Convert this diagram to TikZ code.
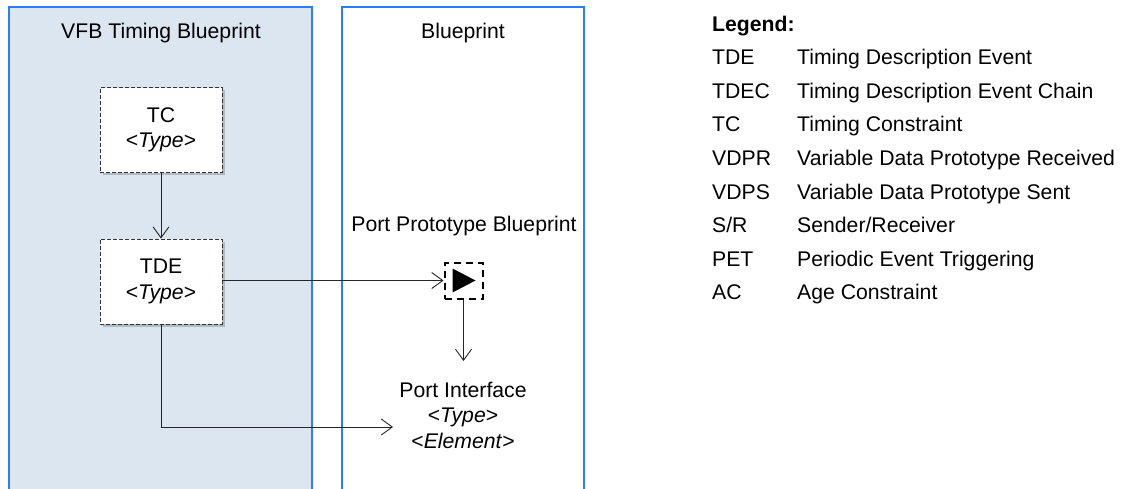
\documentclass[tikz,border=0pt]{standalone}
\usepackage{fontspec}
\setmainfont{Liberation Sans}
\usetikzlibrary{arrows.meta,shadows,calc}
\definecolor{panelblue}{HTML}{2A7DFF}
\definecolor{panelfill}{HTML}{DCE6F1}
\begin{document}
\begin{tikzpicture}[x=1pt,y=-1pt,
  font=\fontsize{21.2}{25.5}\selectfont,
  panel/.style={draw=panelblue,line width=2pt},
  tbox/.style={draw=black!80,dash pattern=on 4pt off 2pt,fill=white,minimum width=122pt,minimum height=85pt,
     align=center,inner sep=0pt,line width=0.9pt,
     drop shadow={shadow xshift=2.5pt,shadow yshift=-2.5pt,opacity=0.35,fill=black!60}},
  conn/.style={draw=black!85,line width=0.9pt},
  arr/.style={conn,-{Straight Barb[length=11pt,width=16pt,line width=0.9pt]}},
  lab/.style={inner sep=0pt,anchor=base west}]
\useasboundingbox (0,0) rectangle (1123,488);
\fill[white] (0,0) rectangle (1123,488);
% panels
\fill[panelfill] (10,8) rectangle (311,490);
\draw[panel] (9,492) -- (9,7) -- (312,7) -- (312,492);
\draw[panel] (342,492) -- (342,7) -- (584,7) -- (584,492);
\node (vfbtitle) at (161,33) {VFB Timing Blueprint};
\node (bptitle) at (463,33) {Blueprint};
% boxes
\node[tbox] (tc) at (161,130) {TC\\<\textit{Type}>};
\node[tbox] (tde) at (161,281.5) {TDE\\<\textit{Type}>};
% port prototype
\node (pptitle) at (464,226) {Port Prototype Blueprint};
\node[draw,line width=2pt,dash pattern=on 7pt off 5pt,minimum width=38pt,minimum height=36pt,inner sep=0pt] (port) at (463.5,280.5) {};
\fill[black] ($(port.center)+(-11,-12)$) -- ($(port.center)+(12,0)$) -- ($(port.center)+(-11,12)$) -- cycle;
\node[align=center,inner sep=0pt] (pi) at (463,415) {Port Interface\\<\textit{Type}>\\<\textit{Element}>};
\coordinate (pitop) at (463.5,361);
\coordinate (pileft) at (393,427);
\coordinate (bend) at (161,427);
% connectors
\draw[arr] (tc.south) -- (tde.north);
\draw[arr] (tde.east |- port.west) -- (port.west);
\draw[arr] (port.south) -- (pitop);
\draw[arr] (tde.south) -- (bend) -- (pileft);
% legend
\node[lab,font=\fontsize{21.2}{25.5}\selectfont\bfseries] (leg) at (712,31) {Legend:};
\foreach \ab/\txt [count=\i] in {TDE/Timing Description Event,TDEC/Timing Description Event Chain,TC/Timing Constraint,VDPR/Variable Data Prototype Received,VDPS/Variable Data Prototype Sent,S\slash R/Sender\slash Receiver,PET/Periodic Event Triggering,AC/Age Constraint}{
  \node[lab] (ab\i) at (712,31+33.6*\i) {\ab};
  \node[lab] (tx\i) at (797,31+33.6*\i) {\txt};
}
\end{tikzpicture}
\end{document}
